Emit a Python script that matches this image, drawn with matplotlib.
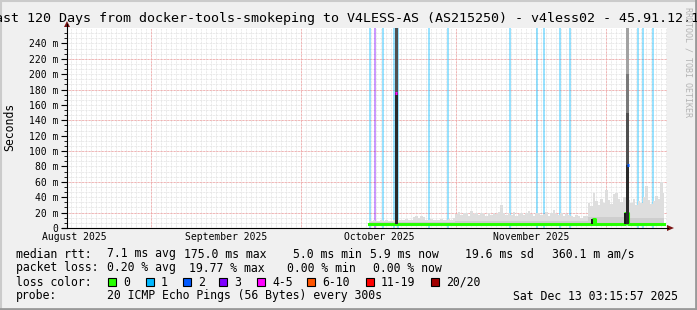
import datetime as dt

import matplotlib
matplotlib.use("Agg")
import matplotlib.pyplot as plt
import matplotlib.dates as mdates
from matplotlib.lines import Line2D
from matplotlib.patches import Rectangle, Polygon


# ---- data ---------------------------------------------------------------
start = dt.datetime(2025, 8, 15, 3, 15, 57)
end = dt.datetime(2025, 12, 13, 3, 15, 57)

# samples every 12 h from this moment
first_sample = dt.datetime(2025, 10, 14, 12, 0)

median = [
    5.8, 5.8, 5.8, 5.8, 5.8, 5.8, 5.8, 5.8, 5.8, 5.8,
    5.8, 5.8, 5.8, 5.8, 5.8, 5.8, 5.8, 5.8, 5.8, 5.8,
    5.8, 5.8, 5.8, 5.8, 5.8, 5.8, 5.8, 5.8, 5.8, 5.8,
    5.8, 5.8, 5.8, 5.8, 5.8, 5.8, 5.8, 5.8, 5.8, 5.8,
    5.8, 5.8, 5.8, 5.8, 5.8, 5.8, 5.8, 5.8, 5.8, 5.8,
    5.8, 5.8, 5.8, 5.8, 5.8, 5.8, 5.8, 5.8, 5.8, 5.8,
    5.8, 5.8, 5.8, 5.8, 5.8, 5.8, 5.8, 5.8, 5.8, 5.8,
    5.8, 5.8, 5.8, 5.8, 5.8, 5.8, 5.8, 5.8, 5.8, 5.8,
    5.8, 5.8, 5.8, 5.8, 5.8, 5.8, 5.8, 5.8, 5.8, 5.8,
    12.0,
    5.0, 5.0, 5.0, 5.0, 5.0, 5.0, 5.0, 5.0, 5.0, 5.0, 5.0,
    5.0, 20.0,
    5.8, 5.8, 5.8, 5.8, 5.8, 5.8, 5.8, 5.8, 5.8, 5.8,
    5.8, 5.8, 5.8, 5.8, 5.8,
]

smoke_mid = [
    7.5, 7.5, 7.5, 7.5, 7.5, 7.5, 7.5, 7.5, 7.5, 7.5,
    7.5, 7.5, 7.5, 7.5, 7.5, 7.5, 7.5, 7.5, 7.5, 7.5,
    7.5, 7.5, 7.5, 7.5, 7.5, 7.5, 7.5, 7.5, 7.5, 7.5,
    7.5, 7.5, 7.5, 7.5, 7.5,
    9, 9, 9, 9, 9, 9, 9, 9, 9, 9,
    9, 9, 9, 9, 9, 9, 9, 9, 9, 9,
    9, 9, 9, 9, 9, 9, 9, 9, 9, 9,
    9, 9, 9, 9, 9, 9, 9, 9, 9, 9,
    9, 9, 9, 9, 9, 9, 9, 9, 9, 9,
    9, 9, 9,
    14, 14, 14, 14, 14, 14, 14, 14, 14, 14,
    14, 14, 14, 14, 14, 14,
    13, 13, 13, 13, 13, 13, 13, 13, 13, 13,
    13, 13, 13, 13, 13,
]

smoke_top = [
    9, 9, 10, 9, 9, 10, 9, 10, 9, 9, 10,
    10,
    10, 11, 10, 12, 11, 10, 14, 15, 13, 15, 14, 11, 10, 12, 11, 10, 11, 12,
    11, 10, 12, 11, 13,
    18, 21, 17, 20, 19, 16, 22, 18, 20, 17, 19,
    18, 16, 20, 17, 19, 18, 21, 30, 19, 17,
    19, 17, 21, 16, 18, 20, 17, 19, 22, 18, 16, 20, 19, 17, 18, 21, 16, 19,
    23, 18, 17, 20, 16, 18, 17,
    16, 14, 17, 15, 13, 16, 15,
    33, 28, 46, 35, 30, 38, 33, 50, 36, 31, 44, 46, 38, 34, 40,
    40,
    36, 32, 38, 30, 35, 33, 40, 54, 37, 31, 35, 42, 38, 60, 45,
]

# packet loss events (background bars)
loss_times = [
    dt.datetime(2025, 10, 14, 18), dt.datetime(2025, 10, 15, 18),
    dt.datetime(2025, 10, 17, 8), dt.datetime(2025, 10, 19, 13),
    dt.datetime(2025, 10, 20, 8), dt.datetime(2025, 10, 26, 13),
    dt.datetime(2025, 10, 30, 8), dt.datetime(2025, 11, 11, 18),
    dt.datetime(2025, 11, 17, 3), dt.datetime(2025, 11, 18, 13),
    dt.datetime(2025, 11, 21, 18), dt.datetime(2025, 11, 23, 18),
    dt.datetime(2025, 12, 7, 8), dt.datetime(2025, 12, 8, 8),
    dt.datetime(2025, 12, 10, 8),
]
loss_counts = [1, 3, 1, 1, 1, 1, 1, 1, 1, 1, 1, 1, 1, 1, 1]

# latency spikes
spike_times = [dt.datetime(2025, 10, 19, 23), dt.datetime(2025, 12, 5, 8)]
spike_medians = [175.0, 82.0]
spike_losses = [5, 2]
spike_edges = [[5, 175, 270], [5, 82, 150, 200, 270]]

# narrow dark smoke (inner pings)
dark_times = [dt.datetime(2025, 11, 28, 3), dt.datetime(2025, 12, 4, 18)]
dark_lo = [5.8, 5.8]
dark_hi = [12.0, 20.0]

loss_labels = ["0", "1", "2", "3", "4-5", "6-10", "11-19", "20/20"]
loss_colors = ["#26ff00", "#00b8ff", "#0059ff", "#7e00ff",
               "#ff00ff", "#ff5500", "#ff0000", "#a10000"]


def loss_color(n):
    if n <= 3:
        return loss_colors[n]
    if n <= 5:
        return loss_colors[4]
    if n <= 10:
        return loss_colors[5]
    if n <= 19:
        return loss_colors[6]
    return loss_colors[7]


# ---- figure -------------------------------------------------------------
W, H = 697, 310
plt.rcParams["font.family"] = "DejaVu Sans Mono"


def fx(x):
    return x / W


def fy(y):
    return 1 - y / H


fig = plt.figure(figsize=(W / 100, H / 100), dpi=100, facecolor="#f0f0f0")
ax = fig.add_axes([fx(67), fy(228), 600 / W, 200 / H])
ax.set_facecolor("white")

t = [first_sample + dt.timedelta(hours=12 * k) for k in range(len(median))]
tn = mdates.date2num(t)

ax.set_xlim(mdates.date2num(start), mdates.date2num(end))
ax.set_ylim(0, 260)

# grid
dotted = (0, (0.72, 0.72))
day = start.replace(hour=0, minute=0, second=0) + dt.timedelta(days=1)
while day < end:
    ax.axvline(mdates.date2num(day), color="#e2e2e2", lw=0.72, ls=dotted, zorder=0)
    day += dt.timedelta(days=1)
for k in range(1, 39):
    ax.axhline(k * 20 / 3, color="#e2e2e2", lw=0.72, ls=dotted, zorder=0)
month_starts = [dt.datetime(2025, m, 1) for m in (9, 10, 11, 12)]
for m in month_starts:
    ax.axvline(mdates.date2num(m), color="#f4a0a0", lw=0.72, ls=dotted, zorder=0.5)
for v in (20, 60, 100, 140, 180, 220):
    ax.axhline(v, color="#f4a0a0", lw=0.72, ls=dotted, zorder=0.5)

# loss background
half = 4 / 24
for lt, n in zip(loss_times, loss_counts):
    c = mdates.date2num(lt)
    ax.axvspan(c - half, c + half, color=loss_color(n), alpha=0.4, lw=0, zorder=1)

# smoke
ax.fill_between(tn, [m - 1 for m in median], smoke_top, step="mid",
                color="#dedede", lw=0, zorder=2)
ax.fill_between(tn, [m - 1 for m in median], smoke_mid, step="mid",
                color="#cecece", lw=0, zorder=2.1)

# median
ax.step(tn, median, where="mid", color=loss_colors[0], lw=2.2, zorder=3)

# dark inner smoke
for dtm, lo, hi in zip(dark_times, dark_lo, dark_hi):
    c = mdates.date2num(dtm)
    ax.bar(c, hi - lo, bottom=lo, width=0.28, color="#1a1a1a", lw=0, zorder=3.5)

# spikes
shades = ["#2a2a2a", "#505050", "#7a7a7a", "#a2a2a2"]
for st, med, ls, edges in zip(spike_times, spike_medians, spike_losses, spike_edges):
    c = mdates.date2num(st)
    for i in range(len(edges) - 1):
        ax.bar(c, edges[i + 1] - edges[i], bottom=edges[i], width=0.6,
               color=shades[i], lw=0, zorder=4)
    ax.plot([c - 0.25, c + 0.25], [med, med], color=loss_color(ls), lw=2.2,
            zorder=5, solid_capstyle="butt")

# axes, ticks
for s in ("top", "right", "left", "bottom"):
    ax.spines[s].set_visible(False)
ax.set_xticks([])
yt = list(range(0, 241, 20))
ax.set_yticks(yt)
ax.set_yticklabels(["0"] + [f"{v} m" for v in yt[1:]], fontsize=7)
ax.set_yticks([k * 20 / 3 for k in range(0, 39)], minor=True)
ax.tick_params(axis="y", which="major", length=4, width=0.8, pad=2, direction="out")
ax.tick_params(axis="y", which="minor", length=2, width=0.6, direction="out")

fig.add_artist(Line2D([fx(67), fx(67)], [fy(228), fy(24)], color="black", lw=0.8))
fig.add_artist(Line2D([fx(62), fx(668)], [fy(228), fy(228)], color="black", lw=0.8))
fig.add_artist(Polygon([(fx(64), fy(27)), (fx(70), fy(27)), (fx(67), fy(21))],
                       closed=True, color="#7a1414", lw=0))
fig.add_artist(Polygon([(fx(667), fy(225)), (fx(667), fy(231)), (fx(674), fy(228))],
                       closed=True, color="#7a1414", lw=0))

month_labels = ["August 2025", "September 2025", "October 2025", "November 2025"]
month_mid = [dt.datetime(2025, 8, 16, 12), dt.datetime(2025, 9, 16),
             dt.datetime(2025, 10, 16, 12), dt.datetime(2025, 11, 16)]
for lab, mm in zip(month_labels, month_mid):
    ax.text(mdates.date2num(mm), -9 / 200, lab, transform=ax.get_xaxis_transform(),
            ha="center", va="center", fontsize=7, clip_on=False)

fig.text(fx(10), fy(127), "Seconds", rotation=90, ha="center", va="center",
         fontsize=8.3)

# title and watermark
fig.text(fx(-13), fy(18.5),
         "Last 120 Days from docker-tools-smokeping to V4LESS-AS (AS215250) - v4less02 - 45.91.12.1",
         ha="left", va="center", fontsize=9.6)
fig.text(fx(688), fy(62), "RRDTOOL / TOBI OETIKER", rotation=270, fontsize=6,
         color="#b4b4b4", ha="center", va="center")

# legend
rows = [
    (254, [(16, "median rtt:"), (107, "7.1 ms avg"), (184, "175.0 ms max"),
           (293, "5.0 ms min"), (370, "5.9 ms now"), (465, "19.6 ms sd"),
           (552, "360.1 m am/s")]),
    (268, [(16, "packet loss:"), (107, "0.20 % avg"), (189, "19.77 % max"),
           (287, "0.00 % min"), (373, "0.00 % now")]),
    (282, [(16, "loss color:")]),
    (296, [(16, "probe:"), (107, "20 ICMP Echo Pings (56 Bytes) every 300s"),
           (513, "Sat Dec 13 03:15:57 2025")]),
]
for y, items in rows:
    for x, s in items:
        fig.text(fx(x), fy(y), s, ha="left", va="center", fontsize=8.3)

sq_x = [108, 146, 183, 219, 257, 307, 366, 431]
for x, lab, col in zip(sq_x, loss_labels, loss_colors):
    fig.add_artist(Rectangle((fx(x), fy(286)), 8 / W, 8 / H, transform=fig.transFigure,
                             facecolor=col, edgecolor="black", lw=0.8))
    fig.text(fx(x + 15), fy(282), lab, ha="left", va="center", fontsize=8.3)

# 3d frame
fig.add_artist(Line2D([0, 1], [fy(0.5), fy(0.5)], color="#cbcbcb", lw=1.5))
fig.add_artist(Line2D([fx(0.5), fx(0.5)], [0, 1], color="#cbcbcb", lw=1.5))
fig.add_artist(Line2D([0, 1], [fy(309), fy(309)], color="#999999", lw=2))
fig.add_artist(Line2D([fx(696), fx(696)], [0, 1], color="#999999", lw=2))

fig.savefig("out.png", dpi=100, facecolor=fig.get_facecolor())
